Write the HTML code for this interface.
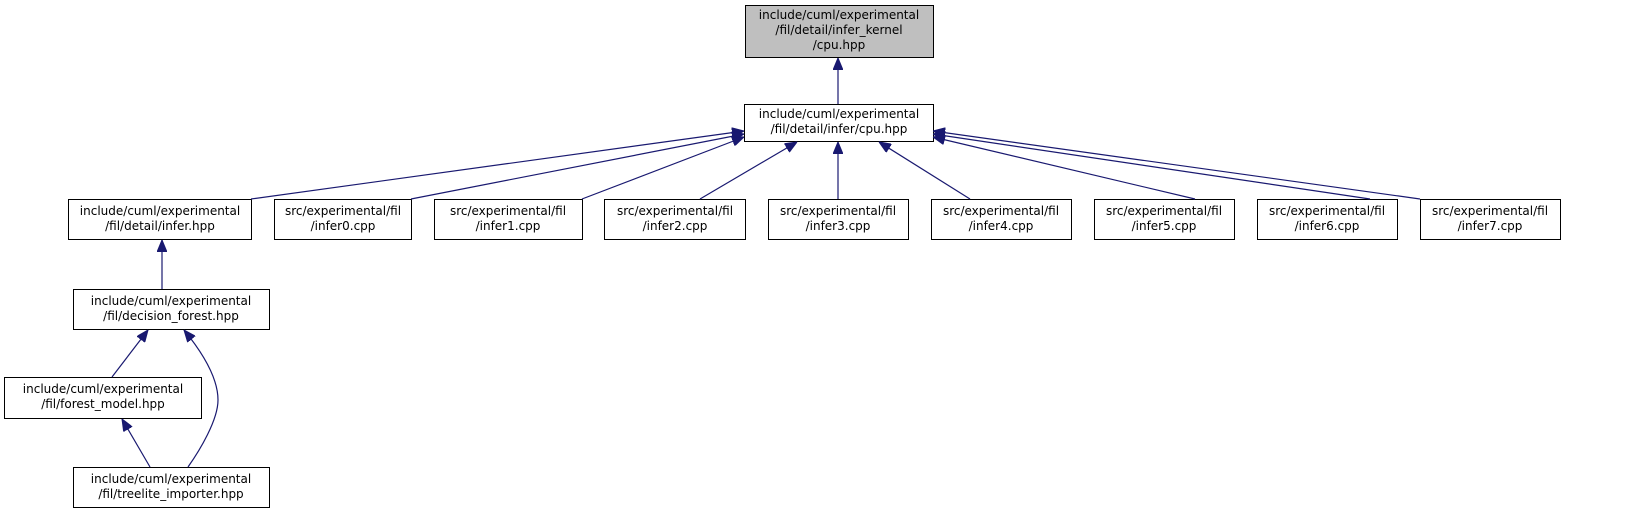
<!DOCTYPE html>
<html><head><meta charset="utf-8"><style>
html,body{margin:0;padding:0;background:#fff;}
svg text{font-family:"DejaVu Sans","Liberation Sans",sans-serif;font-size:12px;fill:#000;text-anchor:middle;}
</style></head><body>
<svg width="1651" height="513" viewBox="0 0 1651 513" xmlns="http://www.w3.org/2000/svg">
<defs><marker id="a" markerWidth="12" markerHeight="10" refX="12" refY="5" orient="auto" markerUnits="userSpaceOnUse">
<path d="M0,0 L12,5 L0,10 Z" fill="#191970" stroke="#191970"/></marker></defs>
<g stroke="#000" stroke-width="1" fill="#fff">
<rect x="745.5" y="5.5" width="188" height="52" fill="#bfbfbf"/>
<rect x="744.5" y="104.5" width="189" height="37"/>
<rect x="68.5" y="199.5" width="183" height="40"/>
<rect x="274.5" y="199.5" width="137" height="40"/>
<rect x="434.5" y="199.5" width="148" height="40"/>
<rect x="604.5" y="199.5" width="141" height="40"/>
<rect x="768.5" y="199.5" width="140" height="40"/>
<rect x="931.5" y="199.5" width="140" height="40"/>
<rect x="1094.5" y="199.5" width="140" height="40"/>
<rect x="1257.5" y="199.5" width="140" height="40"/>
<rect x="1420.5" y="199.5" width="140" height="40"/>
<rect x="73.5" y="289.5" width="196" height="40"/>
<rect x="4.5" y="377.5" width="197" height="41"/>
<rect x="73.5" y="467.5" width="196" height="40"/>
</g>
<g stroke="#191970" stroke-width="1.2" fill="none" marker-end="url(#a)">
<path d="M838,104 L838,58"/>
<path d="M251,199 L744,131"/>
<path d="M411,199 L744,134"/>
<path d="M582,199 L744,137"/>
<path d="M700,199 L797,142"/>
<path d="M838,199 L838,142"/>
<path d="M970,199 L879,142"/>
<path d="M1195,199 L933,137"/>
<path d="M1370,199 L933,134"/>
<path d="M1420,199 L933,131"/>
<path d="M162,289 L162,240"/>
<path d="M112,377 L148,330"/>
<path d="M188,467 C200,450 218,420 218,400 C218,378 202,352 184,330"/>
<path d="M150,467 L122,419"/>
</g>
<text x="839" y="19">include/cuml/experimental</text>
<text x="839" y="34">/fil/detail/infer_kernel</text>
<text x="839" y="49">/cpu.hpp</text>
<text x="839" y="118">include/cuml/experimental</text>
<text x="839" y="133">/fil/detail/infer/cpu.hpp</text>
<text x="160" y="215">include/cuml/experimental</text>
<text x="160" y="230">/fil/detail/infer.hpp</text>
<text x="343" y="215">src/experimental/fil</text><text x="343" y="230">/infer0.cpp</text>
<text x="508" y="215">src/experimental/fil</text><text x="508" y="230">/infer1.cpp</text>
<text x="675" y="215">src/experimental/fil</text><text x="675" y="230">/infer2.cpp</text>
<text x="838" y="215">src/experimental/fil</text><text x="838" y="230">/infer3.cpp</text>
<text x="1001" y="215">src/experimental/fil</text><text x="1001" y="230">/infer4.cpp</text>
<text x="1164" y="215">src/experimental/fil</text><text x="1164" y="230">/infer5.cpp</text>
<text x="1327" y="215">src/experimental/fil</text><text x="1327" y="230">/infer6.cpp</text>
<text x="1490" y="215">src/experimental/fil</text><text x="1490" y="230">/infer7.cpp</text>
<text x="171" y="305">include/cuml/experimental</text>
<text x="171" y="320">/fil/decision_forest.hpp</text>
<text x="103" y="393">include/cuml/experimental</text>
<text x="103" y="408">/fil/forest_model.hpp</text>
<text x="171" y="483">include/cuml/experimental</text>
<text x="171" y="498">/fil/treelite_importer.hpp</text>
</svg>
</body></html>
